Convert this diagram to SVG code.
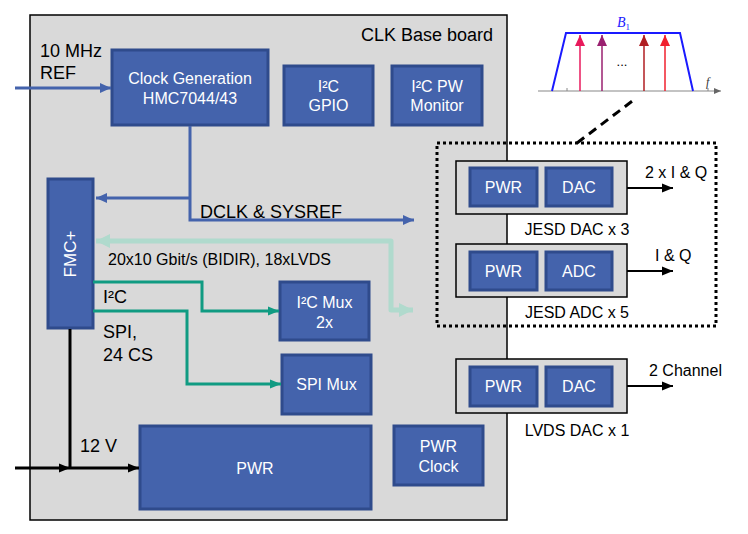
<svg xmlns="http://www.w3.org/2000/svg" width="748" height="534" viewBox="0 0 748 534">
<defs>
<style>
text{font-family:"Liberation Sans",Arial,sans-serif}
.blk{fill:#4463ac;stroke:#2f4b8c;stroke-width:3}
.wt{fill:#fff;font-size:16px;text-anchor:middle}
.bt{fill:#000;font-size:18px}
.cont{fill:#d9d9d9;stroke:#000;stroke-width:1.5}
.lbl{fill:#000;font-size:16px}
</style>
<marker id="ab" markerUnits="userSpaceOnUse" markerWidth="12" markerHeight="12" refX="11" refY="6" orient="auto"><path d="M0,1 L11,6 L0,11 Z" fill="#4463ac"/></marker>
<marker id="ak" markerUnits="userSpaceOnUse" markerWidth="12" markerHeight="12" refX="11" refY="6" orient="auto"><path d="M0,1.5 L11,6 L0,10.5 Z" fill="#000"/></marker>
<marker id="at" markerUnits="userSpaceOnUse" markerWidth="12" markerHeight="12" refX="11" refY="6" orient="auto"><path d="M0,1.5 L11,6 L0,10.5 Z" fill="#109b82"/></marker>
<marker id="ag" markerUnits="userSpaceOnUse" markerWidth="16" markerHeight="16" refX="14" refY="8" orient="auto-start-reverse"><path d="M0,1 L14,8 L0,15 Z" fill="#b0dacd"/></marker>
<marker id="as" markerUnits="userSpaceOnUse" markerWidth="8" markerHeight="8" refX="7" refY="4" orient="auto"><path d="M0,1 L7,4 L0,7 Z" fill="#666"/></marker>
<marker id="r1" markerUnits="userSpaceOnUse" markerWidth="10" markerHeight="12" refX="5" refY="0" orient="0"><path d="M0,11 L5,0 L10,11 Z" fill="#e8195c"/></marker>
<marker id="r2" markerUnits="userSpaceOnUse" markerWidth="10" markerHeight="12" refX="5" refY="0" orient="0"><path d="M0,11 L5,0 L10,11 Z" fill="#9a2070"/></marker>
<marker id="r3" markerUnits="userSpaceOnUse" markerWidth="10" markerHeight="12" refX="5" refY="0" orient="0"><path d="M0,11 L5,0 L10,11 Z" fill="#b01e22"/></marker>
<marker id="r4" markerUnits="userSpaceOnUse" markerWidth="10" markerHeight="12" refX="5" refY="0" orient="0"><path d="M0,11 L5,0 L10,11 Z" fill="#f0202e"/></marker>
</defs>

<g id="base-board">
<rect x="30" y="15" width="477" height="505" fill="#d9d9d9" stroke="#000" stroke-width="1.5"/>
<text x="493" y="41" class="bt" text-anchor="end">CLK Base board</text>
</g>

<g id="clock-gen">
<rect x="112" y="50" width="156" height="75" class="blk"/>
<text x="190" y="84" class="wt">Clock Generation</text>
<text x="190" y="104" class="wt">HMC7044/43</text>
</g>
<g id="i2c-gpio">
<rect x="284" y="66" width="89" height="59" class="blk"/>
<text x="328.5" y="92" class="wt">I²C</text>
<text x="328.5" y="111" class="wt">GPIO</text>
</g>
<g id="i2c-pw">
<rect x="392" y="66" width="90" height="59" class="blk"/>
<text x="437" y="92" class="wt">I²C PW</text>
<text x="437" y="111" class="wt">Monitor</text>
</g>
<g id="fmc">
<rect x="48" y="179" width="45" height="149" class="blk"/>
<text x="0" y="0" class="wt" style="font-size:17px" transform="translate(76,254) rotate(-90)">FMC+</text>
</g>
<g id="i2c-mux">
<rect x="280" y="282" width="89" height="58" class="blk"/>
<text x="324.5" y="308" class="wt">I²C Mux</text>
<text x="324.5" y="328" class="wt">2x</text>
</g>
<g id="spi-mux">
<rect x="282" y="355" width="89" height="59" class="blk"/>
<text x="326.5" y="390" class="wt">SPI Mux</text>
</g>
<g id="pwr-main">
<rect x="140" y="426" width="231" height="83" class="blk"/>
<text x="255" y="474" class="wt">PWR</text>
</g>
<g id="pwr-clock">
<rect x="394" y="426" width="89" height="59" class="blk"/>
<text x="438.5" y="452" class="wt">PWR</text>
<text x="438.5" y="472" class="wt">Clock</text>
</g>

<g id="jesd-dac">
<rect x="456" y="161" width="171" height="53" class="cont"/>
<rect x="470" y="168" width="67" height="38" class="blk"/>
<text x="503.5" y="193" class="wt">PWR</text>
<rect x="546" y="168" width="66" height="38" class="blk"/>
<text x="579" y="193" class="wt">DAC</text>
<text x="577" y="235" class="lbl" text-anchor="middle">JESD DAC x 3</text>
</g>
<g id="jesd-adc">
<rect x="456" y="244" width="171" height="53" class="cont"/>
<rect x="470" y="252" width="67" height="38" class="blk"/>
<text x="503.5" y="277" class="wt">PWR</text>
<rect x="546" y="252" width="66" height="38" class="blk"/>
<text x="579" y="277" class="wt">ADC</text>
<text x="577" y="318" class="lbl" text-anchor="middle">JESD ADC x 5</text>
</g>
<g id="lvds-dac">
<rect x="456" y="359" width="171" height="54" class="cont"/>
<rect x="470" y="367" width="67" height="39" class="blk"/>
<text x="503.5" y="392" class="wt">PWR</text>
<rect x="546" y="367" width="66" height="39" class="blk"/>
<text x="579" y="392" class="wt">DAC</text>
<text x="577" y="436" class="lbl" text-anchor="middle">LVDS DAC x 1</text>
</g>

<g id="jesd-group">
<rect x="437" y="143" width="279" height="183" fill="none" stroke="#000" stroke-width="3" stroke-dasharray="3,3"/>
</g>

<g id="spectrum">
<line x1="538" y1="91" x2="721" y2="91" stroke="#888" stroke-width="1.2" marker-end="url(#as)"/>
<line x1="567" y1="88" x2="567" y2="91" stroke="#888" stroke-width="1"/>
<line x1="708" y1="88" x2="708" y2="91" stroke="#888" stroke-width="1"/>
<polyline points="552,91 566,33 680,33 693,91" fill="none" stroke="#1a1aff" stroke-width="2"/>
<line x1="580" y1="91" x2="580" y2="35" stroke="#e8195c" stroke-width="1.5" marker-end="url(#r1)"/>
<line x1="602" y1="91" x2="602" y2="35" stroke="#9a2070" stroke-width="1.5" marker-end="url(#r2)"/>
<line x1="644" y1="91" x2="644" y2="35" stroke="#b01e22" stroke-width="1.5" marker-end="url(#r3)"/>
<line x1="665" y1="91" x2="665" y2="35" stroke="#f0202e" stroke-width="1.5" marker-end="url(#r4)"/>
<text x="622" y="66" style="font-size:13px" text-anchor="middle" fill="#000">...</text>
<text x="617" y="27" fill="#1a1aff" style="font-family:'Liberation Serif',serif;font-size:14px;font-style:italic">B<tspan style="font-size:9px;font-style:normal" dy="3">1</tspan></text>
<text x="706" y="86" fill="#333" style="font-family:'Liberation Serif',serif;font-size:12px;font-style:italic">f</text>
</g>

<g id="connectors" fill="none">
<line x1="15" y1="88" x2="111" y2="88" stroke="#4463ac" stroke-width="3" marker-end="url(#ab)"/>
<polyline points="190,126 190,220 414,220" stroke="#4463ac" stroke-width="3" marker-end="url(#ab)"/>
<line x1="190" y1="198" x2="96" y2="198" stroke="#4463ac" stroke-width="3" marker-end="url(#ab)"/>
<polyline points="96,241 391,241 391,310 413,310" stroke="#b0dacd" stroke-width="5" stroke-linejoin="round" marker-start="url(#ag)" marker-end="url(#ag)"/>
<polyline points="93,282 202,282 202,311 279,311" stroke="#109b82" stroke-width="3" marker-end="url(#at)"/>
<polyline points="93,311 187,311 187,384 281,384" stroke="#109b82" stroke-width="3" marker-end="url(#at)"/>
<line x1="70" y1="329" x2="70" y2="468" stroke="#000" stroke-width="3"/>
<line x1="15" y1="468" x2="70" y2="468" stroke="#000" stroke-width="3" marker-end="url(#ak)"/>
<line x1="70" y1="468" x2="139" y2="468" stroke="#000" stroke-width="3" marker-end="url(#ak)"/>
<line x1="627" y1="188" x2="673" y2="188" stroke="#000" stroke-width="2" marker-end="url(#ak)"/>
<line x1="627" y1="271" x2="673" y2="271" stroke="#000" stroke-width="2" marker-end="url(#ak)"/>
<line x1="627" y1="386" x2="673" y2="386" stroke="#000" stroke-width="2" marker-end="url(#ak)"/>
<line x1="577" y1="143" x2="635" y2="99" stroke="#000" stroke-width="3" stroke-dasharray="9,6"/>
</g>

<g id="labels">
<text x="40" y="57" class="bt">10 MHz</text>
<text x="40" y="79" class="bt">REF</text>
<text x="200" y="218" class="bt">DCLK &amp; SYSREF</text>
<text x="108" y="265" class="lbl">20x10 Gbit/s (BIDIR), 18xLVDS</text>
<text x="103" y="303" class="bt">I²C</text>
<text x="103" y="338" class="bt">SPI,</text>
<text x="103" y="361" class="bt">24 CS</text>
<text x="80" y="452" class="bt">12 V</text>
<text x="645" y="178" class="lbl">2 x I &amp; Q</text>
<text x="655" y="261" class="lbl">I &amp; Q</text>
<text x="649" y="376" class="lbl">2 Channel</text>
</g>
</svg>
